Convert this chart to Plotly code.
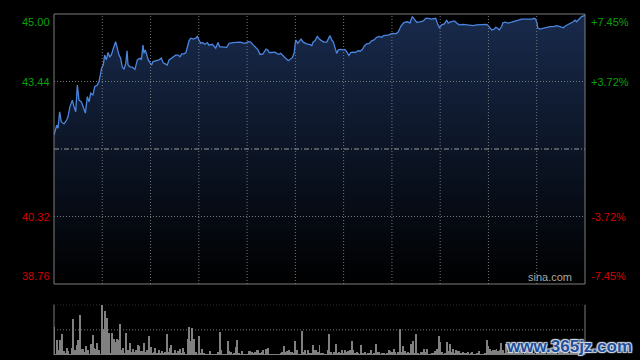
import plotly.graph_objects as go

# ---------------- data ----------------
prev_close = 41.88
price_range = [38.76, 45.00]

# minutes since 09:30 (HK session, lunch break removed; 330 minutes total)
minutes = [
    0, 1.7, 2.5, 3.5, 4.5, 6.2, 7.9, 8.7, 9.9, 11.4,
    12.4, 13.5, 14.5, 15.5, 17.0, 18.2, 19.5, 20.7, 21.8, 22.8,
    24.2, 25.3, 26.9, 28.0, 29.0, 29.6, 30.6, 31.5, 32.5, 33.6,
    34.6, 35.6, 36.9, 38.3, 39.3, 40.4, 41.4, 42.4, 43.5, 44.6,
    45.4, 46.0, 47.2, 48.7, 50.3, 51.8, 53.4, 54.3, 55.3, 55.9,
    56.7, 57.6, 58.6, 59.7, 60.7, 61.5, 63.2, 65.3, 66.7, 67.9,
    69.4, 70.4, 71.5, 72.9, 74.1, 75.6, 77.1, 78.3, 79.4, 80.8,
    82.0, 82.8, 83.9, 85.0, 86.6, 88.1, 89.1, 90.1, 91.2, 92.2,
    93.7, 95.3, 96.3, 98.4, 100.5, 101.9, 103.0, 104.2, 105.7, 107.3,
    108.8, 111.4, 115.6, 118.7, 120.8, 122.2, 123.9, 125.5, 126.8, 128.0,
    129.5, 130.1, 131.8, 132.8, 133.8, 135.3, 137.3, 138.4, 139.8, 140.9,
    142.1, 143.6, 145.6, 146.7, 148.1, 149.2, 150.2, 151.5, 153.5, 154.9,
    157.0, 159.1, 160.2, 161.1, 162.2, 163.6, 164.9, 166.4, 167.8, 169.5,
    170.5, 171.5, 172.6, 173.6, 174.6, 175.7, 176.7, 178.2, 179.8, 180.8,
    181.9, 183.3, 184.4, 185.6, 187.1, 189.1, 190.2, 191.6, 192.9, 194.3,
    195.9, 197.4, 198.9, 200.5, 202.2, 203.7, 204.7, 206.3, 207.8, 209.3,
    210.9, 212.5, 214.0, 215.5, 217.1, 218.1, 219.8, 221.2, 222.7, 223.9,
    225.4, 227.5, 229.5, 231.0, 232.6, 234.7, 237.2, 238.5, 239.5, 240.9,
    242.6, 244.0, 245.0, 246.5, 248.8, 250.3, 251.7, 254.4, 256.5, 258.5,
    260.6, 262.7, 264.7, 267.9, 268.9, 269.9, 271.0, 272.0, 273.6, 274.5,
    275.7, 276.7, 278.2, 278.9, 280.3, 282.3, 284.4, 286.5, 288.6, 290.7,
    292.7, 294.8, 296.9, 298.5, 299.3, 300.2, 300.6, 302.0, 304.1, 306.2,
    308.2, 310.3, 312.4, 314.5, 316.5, 318.0, 319.6, 321.7, 322.7, 323.8,
    324.8, 325.8, 326.9, 327.9, 330,
]

prices = [
    42.20, 42.43, 42.36, 42.74, 42.51, 42.46, 42.55, 42.63, 42.86, 43.01,
    42.86, 42.74, 43.36, 43.01, 42.97, 42.86, 42.71, 43.09, 42.97, 43.17,
    43.13, 43.32, 43.36, 43.44, 43.63, 43.75, 43.82, 44.05, 43.94, 44.11,
    44.01, 44.05, 44.21, 44.36, 44.21, 44.05, 43.98, 43.78, 43.72, 43.86,
    44.15, 43.82, 43.78, 43.77, 43.72, 43.94, 43.98, 43.94, 44.28, 44.09,
    44.17, 44.05, 43.94, 43.87, 43.82, 43.90, 43.92, 43.94, 43.98, 43.87,
    43.84, 43.82, 43.94, 43.98, 44.00, 44.05, 44.05, 44.01, 44.08, 44.08,
    44.11, 44.21, 44.38, 44.44, 44.42, 44.44, 44.48, 44.40, 44.32, 44.34,
    44.30, 44.34, 44.28, 44.30, 44.21, 44.34, 44.24, 44.24, 44.23, 44.23,
    44.32, 44.34, 44.35, 44.32, 44.36, 44.35, 44.28, 44.23, 44.17, 44.07,
    44.07, 44.09, 44.19, 44.17, 44.11, 44.11, 44.12, 44.09, 44.07, 44.09,
    44.04, 43.99, 43.92, 43.96, 43.99, 44.09, 44.40, 44.32, 44.42, 44.35,
    44.31, 44.29, 44.27, 44.36, 44.38, 44.48, 44.42, 44.38, 44.35, 44.35,
    44.44, 44.50, 44.40, 44.35, 44.23, 44.09, 44.17, 44.18, 44.17, 44.18,
    44.13, 44.04, 44.11, 44.12, 44.11, 44.15, 44.14, 44.18, 44.26, 44.31,
    44.32, 44.38, 44.40, 44.46, 44.48, 44.46, 44.50, 44.51, 44.51, 44.54,
    44.55, 44.54, 44.59, 44.71, 44.79, 44.81, 44.82, 44.79, 44.94, 44.88,
    44.81, 44.82, 44.84, 44.90, 44.90, 44.88, 44.90, 44.76, 44.68, 44.75,
    44.77, 44.86, 44.79, 44.82, 44.84, 44.79, 44.75, 44.76, 44.75, 44.73,
    44.73, 44.75, 44.75, 44.75, 44.76, 44.73, 44.67, 44.63, 44.65, 44.69,
    44.67, 44.63, 44.71, 44.79, 44.81, 44.79, 44.81, 44.84, 44.86, 44.88,
    44.88, 44.88, 44.88, 44.90, 44.88, 44.79, 44.68, 44.65, 44.67, 44.69,
    44.71, 44.71, 44.73, 44.71, 44.68, 44.73, 44.76, 44.79, 44.82, 44.86,
    44.82, 44.86, 44.91, 44.94, 44.97,
]

# per-minute volume (relative units, 150 = top of volume panel)
volume = [
    85, 3, 45, 15, 47, 63, 12, 7, 23, 12,
    3, 23, 108, 15, 30, 47, 120, 20, 20, 10,
    27, 15, 5, 33, 60, 23, 20, 38, 15, 5,
    150, 77, 132, 110, 67, 7, 67, 50, 40, 50,
    45, 93, 15, 23, 7, 67, 15, 37, 10, 20,
    10, 17, 30, 27, 13, 13, 37, 10, 15, 57,
    25, 7, 10, 23, 7, 15, 7, 12, 7, 10,
    63, 10, 23, 30, 7, 15, 7, 12, 20, 7,
    23, 10, 5, 50, 83, 42, 80, 50, 10, 5,
    57, 7, 20, 7, 5, 5, 3, 12, 5, 5,
    3, 5, 10, 70, 15, 3, 3, 3, 43, 13,
    10, 5, 7, 25, 47, 7, 3, 12, 3, 3,
    5, 12, 12, 10, 7, 10, 17, 17, 7, 10,
    15, 5, 20, 23, 5, 5, 2, 2, 2, 2,
    2, 7, 10, 27, 10, 12, 15, 10, 10, 7,
    42, 15, 5, 5, 72, 10, 15, 5, 15, 7,
    7, 30, 15, 15, 10, 30, 7, 7, 5, 5,
    17, 63, 10, 5, 10, 33, 7, 10, 7, 15,
    7, 15, 10, 13, 17, 42, 15, 7, 10, 7,
    5, 30, 7, 10, 5, 7, 7, 15, 5, 7,
    33, 10, 10, 5, 8, 7, 5, 7, 17, 13,
    10, 20, 10, 5, 10, 77, 10, 27, 12, 7,
    10, 7, 33, 43, 7, 63, 7, 5, 10, 10,
    20, 10, 20, 3, 5, 7, 7, 13, 20, 57,
    40, 10, 5, 7, 40, 13, 33, 10, 20, 7,
    17, 13, 13, 7, 10, 7, 7, 10, 5, 7,
    10, 5, 3, 7, 12, 5, 5, 3, 7, 45,
    27, 20, 13, 15, 17, 20, 12, 15, 37, 17,
    7, 33, 10, 7, 12, 10, 8, 12, 6, 10,
    15, 7, 5, 10, 12, 6, 8, 14, 7, 5,
    10, 18, 8, 6, 12, 9, 5, 7, 15, 10,
    6, 8, 12, 5, 9, 20, 7, 10, 6, 12,
    8, 15, 6, 10, 7, 12, 9, 14, 18, 10,
    25,
]
volume_minutes = list(range(len(volume)))

if len(minutes) != len(prices):
    raise SystemExit(f"length mismatch {len(minutes)} vs {len(prices)}")

grid_minutes = [30, 60, 90, 120, 150, 180, 210, 240, 270, 300]
grid_prices = [43.44, 40.32]
left_labels = ["45.00", "43.44", "40.32", "38.76"]
right_labels = ["+7.45%", "+3.72%", "-3.72%", "-7.45%"]
label_values = [45.00, 43.44, 40.32, 38.76]
vol_max = 150

# ---------------- styles ----------------
FONT = "Liberation Sans, Arial, sans-serif"
GREEN = "#0aa00a"
RED = "#d20000"
GRID = "#767676"
BORDER = "#7c7c7c"
DOT = "1px,2px"

fig = go.Figure()

fig.add_trace(go.Scatter(
    x=minutes, y=prices, mode="lines",
    line=dict(color="#4a86e0", width=1.3),
    fill="tozeroy",
    fillgradient=dict(type="vertical",
                      colorscale=[[0, "#000000"], [1, "#182a4c"]],
                      start=price_range[0], stop=price_range[1]),
    hoverinfo="skip", xaxis="x", yaxis="y",
))

fig.add_trace(go.Bar(
    x=volume_minutes, y=volume, width=0.62,
    marker=dict(color="#808080", line=dict(width=0)),
    hoverinfo="skip", xaxis="x2", yaxis="y2",
))

main_bottom = 71 / 341
vol_top = 50.3 / 341

fig.update_layout(
    width=640, height=360,
    margin=dict(l=54, r=55, t=14, b=5),
    paper_bgcolor="#000000", plot_bgcolor="rgba(0,0,0,0)",
    showlegend=False, bargap=0,
    xaxis=dict(domain=[0, 1], range=[0, 330], anchor="y",
               showticklabels=False, ticks="", showgrid=False,
               zeroline=False, showline=False),
    yaxis=dict(domain=[main_bottom, 1], range=price_range, anchor="x",
               showticklabels=False, ticks="", showgrid=False,
               zeroline=False, showline=False),
    xaxis2=dict(domain=[0, 1], range=[0, 330], anchor="y2",
                showticklabels=False, showgrid=False, zeroline=False,
                showline=False, ticks=""),
    yaxis2=dict(domain=[0, vol_top], range=[0, vol_max], anchor="x2",
                showticklabels=False, showgrid=False, zeroline=False,
                showline=False, ticks=""),
)

shapes = []
# dotted grid drawn above the filled area (as in the reference)
for gm in grid_minutes:
    shapes.append(dict(type="line", xref="x", yref="y domain", x0=gm, x1=gm, y0=0, y1=1,
                       layer="above", line=dict(color=GRID, width=1, dash=DOT)))
for gp in grid_prices:
    shapes.append(dict(type="line", xref="x domain", yref="y", x0=0, x1=1, y0=gp, y1=gp,
                       layer="above", line=dict(color=GRID, width=1, dash=DOT)))
shapes += [
    # previous close dash-dot line
    dict(type="line", xref="x domain", yref="y", x0=0, x1=1,
         y0=prev_close, y1=prev_close, layer="above",
         line=dict(color="#9a9a9a", width=1, dash="5px,2px,1px,2px")),
    # main border
    dict(type="rect", xref="x domain", yref="y domain", x0=0, x1=1, y0=0, y1=1,
         layer="above", line=dict(color=BORDER, width=1)),
    # volume panel
    dict(type="line", xref="x2 domain", yref="y2 domain", x0=0, x1=0, y0=0, y1=1,
         line=dict(color=BORDER, width=1)),
    dict(type="line", xref="x2 domain", yref="y2 domain", x0=1, x1=1, y0=0, y1=1,
         line=dict(color=BORDER, width=1)),
    dict(type="line", xref="x2 domain", yref="y2", x0=0, x1=1,
         y0=vol_max, y1=vol_max, line=dict(color=GRID, width=1, dash=DOT)),
    dict(type="line", xref="x2 domain", yref="y2", x0=0, x1=1,
         y0=vol_max / 2, y1=vol_max / 2, line=dict(color=GRID, width=1, dash=DOT)),
]
fig.update_layout(shapes=shapes)

annotations = []
n = len(label_values)
for i, (lt, rt, v) in enumerate(zip(left_labels, right_labels, label_values)):
    col = GREEN if v > prev_close else RED
    ya = "top" if i == 0 else ("bottom" if i == n - 1 else "middle")
    annotations.append(dict(text=lt, xref="paper", yref="y", x=0, y=v,
                            xanchor="right", yanchor=ya, xshift=-2, showarrow=False,
                            font=dict(family=FONT, size=11, color=col)))
    annotations.append(dict(text=rt, xref="paper", yref="y", x=1, y=v,
                            xanchor="left", yanchor=ya, xshift=4, showarrow=False,
                            font=dict(family=FONT, size=11, color=col)))

annotations.append(dict(text="sina.com", xref="x domain", yref="y domain", x=1, y=0,
                        xanchor="right", yanchor="bottom", xshift=-11, yshift=-1,
                        showarrow=False,
                        font=dict(family=FONT, size=11, color="#a8a8a8")))

annotations.append(dict(text="<b>www.365jz.com</b>", xref="paper", yref="paper",
                        x=1, y=0, xanchor="right", yanchor="middle",
                        xshift=49, yshift=9, showarrow=False,
                        font=dict(family=FONT, size=17, color="#1f4f9c",
                                  shadow="1px 1px 1px #d8e0ec, -1px -1px 1px #d8e0ec, 1px -1px 1px #d8e0ec, -1px 1px 1px #d8e0ec")))
fig.update_layout(annotations=annotations)

fig.write_html("out.html", config={"displayModeBar": False})
